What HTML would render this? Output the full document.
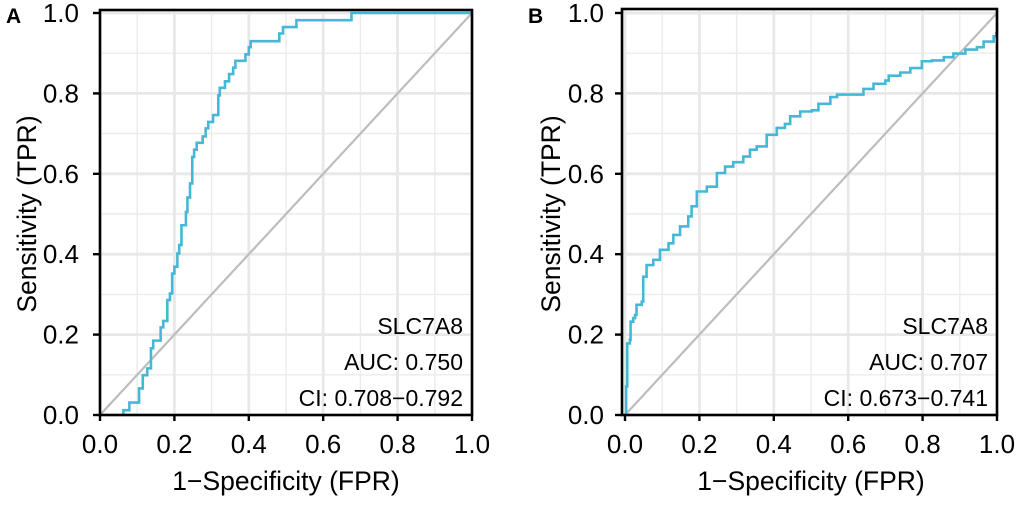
<!DOCTYPE html>
<html><head><meta charset="utf-8"><style>
body{margin:0;background:#fff}
svg text{font-family:"Liberation Sans",Arial,sans-serif;fill:#000}
</style></head><body>
<svg id="chart" width="1020" height="500" viewBox="0 0 1020 500" xmlns="http://www.w3.org/2000/svg"></svg>
<script>
const ticks = [0, 0.2, 0.4, 0.6, 0.8, 1.0];
const tickLabels = ["0.0","0.2","0.4","0.6","0.8","1.0"];
const fprA = [0.063,0.079,0.105,0.115,0.127,0.137,0.143,0.163,0.170,0.181,0.188,0.194,0.200,0.208,0.213,0.219,0.231,0.235,0.242,0.248,0.253,0.260,0.276,0.284,0.291,0.304,0.318,0.322,0.336,0.347,0.358,0.364,0.391,0.400,0.405,0.482,0.492,0.528,0.676];
const tprA = [0.012,0.031,0.066,0.099,0.116,0.166,0.185,0.218,0.234,0.286,0.302,0.352,0.369,0.402,0.423,0.472,0.505,0.541,0.576,0.642,0.660,0.677,0.693,0.713,0.729,0.746,0.795,0.814,0.830,0.848,0.864,0.881,0.897,0.915,0.930,0.949,0.965,0.982,1.0];
const fprB = [0,0.003,0.006,0.013,0.015,0.022,0.027,0.031,0.045,0.049,0.058,0.076,0.094,0.117,0.130,0.148,0.170,0.179,0.193,0.220,0.247,0.269,0.291,0.318,0.336,0.354,0.381,0.408,0.430,0.444,0.471,0.502,0.520,0.552,0.570,0.605,0.641,0.668,0.700,0.709,0.740,0.767,0.798,0.825,0.857,0.883,0.915,0.946,0.964,0.991,0.998,1.0];
const tprB = [0,0.071,0.178,0.187,0.232,0.241,0.249,0.274,0.282,0.344,0.373,0.386,0.411,0.427,0.448,0.469,0.494,0.519,0.556,0.568,0.602,0.618,0.629,0.643,0.660,0.668,0.697,0.714,0.724,0.743,0.755,0.758,0.774,0.791,0.797,0.797,0.811,0.824,0.832,0.844,0.852,0.863,0.880,0.882,0.890,0.899,0.909,0.915,0.929,0.942,0.950,0.975];
const labelsA = ["SLC7A8","AUC: 0.750","CI: 0.708\u22120.792"];
const labelsB = ["SLC7A8","AUC: 0.707","CI: 0.673\u22120.741"];

const svg = document.getElementById('chart');
const NS = 'http://www.w3.org/2000/svg';
function mk(tag, attrs, parent){
  const e = document.createElementNS(NS, tag);
  for (const k in attrs) e.setAttribute(k, attrs[k]);
  (parent||svg).appendChild(e);
  return e;
}
function panel(id, x0, x1, yTop, frameX, letter, letterX, yLabelX, yTitleX, fpr, tpr, labels){
  const y0 = 415, y1 = 13;
  const sx = v => x0 + v*(x1-x0);
  const sy = v => y0 - v*(y0-y1);
  const g = mk('g', {});
  
  
  for (let i=0;i<5;i++){
    const v = ticks[i]+0.1;
    const a = mk('line',{x1:sx(v),x2:sx(v),y1:yTop,y2:y0,stroke:'#ebebeb','stroke-width':1.4},g);
     
    const b = mk('line',{x1:frameX,x2:x1,y1:sy(v),y2:sy(v),stroke:'#ebebeb','stroke-width':1.4},g);
     
  }
  ticks.forEach((v,i)=>{
    const a = mk('line',{x1:sx(v),x2:sx(v),y1:yTop,y2:y0,stroke:'#e8e8e8','stroke-width':2.8},g);
     
    const b = mk('line',{x1:frameX,x2:x1,y1:sy(v),y2:sy(v),stroke:'#e8e8e8','stroke-width':2.8},g);
     
    const tx = mk('line',{x1:sx(v),x2:sx(v),y1:y0,y2:y0+6,stroke:'#000','stroke-width':2.4},g);
     
    const ty = mk('line',{x1:frameX-7,x2:frameX,y1:sy(v),y2:sy(v),stroke:'#000','stroke-width':2.4},g);
     
    const lx = mk('text',{x:sx(v),y:453,'font-size':26,'text-anchor':'middle'},g);
    lx.textContent = tickLabels[i];
     
    const ly = mk('text',{x:yLabelX,y:sy(v)+9,'font-size':26,'text-anchor':'end'},g);
    ly.textContent = tickLabels[i];
     
  });
  const diag = mk('line',{x1:sx(0),y1:sy(0),x2:sx(1),y2:sy(1),stroke:'#bdbdbd','stroke-width':2.2},g);
   
  let d = 'M'+sx(fpr[0])+','+sy(0);
  let prev = 0;
  for (let i=0;i<fpr.length;i++){
    d += ' L'+sx(fpr[i])+','+sy(prev)+' L'+sx(fpr[i])+','+sy(tpr[i]);
    prev = tpr[i];
  }
  d += ' L'+sx(1)+','+sy(prev);
  const p = mk('path',{d:d,fill:'none',stroke:'#46b8d6','stroke-width':2.6},g);
   
  const fr = mk('rect',{x:frameX,y:yTop,width:x1-frameX,height:y0-yTop,fill:'none',stroke:'#000','stroke-width':2.6},g);
   
  labels.forEach((t,i)=>{
    const e = mk('text',{x:x1-9,y:334+i*36,'font-size':23,'text-anchor':'end'},g);
    e.textContent = t;
     
  });
  const xt = mk('text',{x:(x0+x1)/2,y:490,'font-size':26.5,'text-anchor':'middle'},g);
  xt.textContent = '1\u2212Specificity (FPR)';
   
  const yt = mk('text',{x:0,y:0,'font-size':26.5,'text-anchor':'middle',transform:'translate('+yTitleX+','+((y0+y1)/2)+') rotate(-90)'},g);
  yt.textContent = 'Sensitivity (TPR)';
   
  const L = mk('text',{x:letterX,y:23,'font-size':21,'font-weight':'bold'},g);
  L.textContent = letter;
   
}
panel('panel-a', 100, 472, 10, 100, 'A', 6, 79, 36, fprA, tprA, labelsA);
panel('panel-b', 625, 997, 9, 622, 'B', 528, 604, 560, fprB, tprB, labelsB);
</script>
</body></html>
